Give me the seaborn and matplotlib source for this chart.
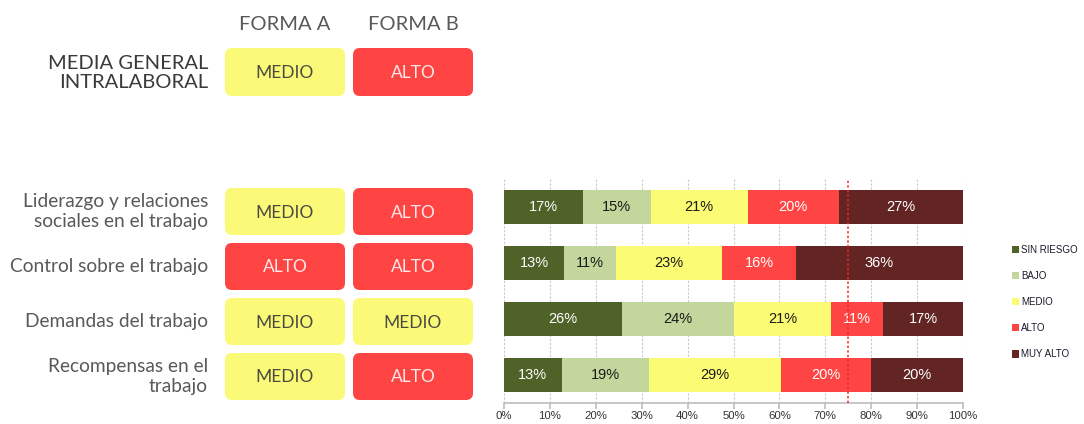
import numpy as np
import pandas as pd
import matplotlib
matplotlib.use("Agg")
import matplotlib.pyplot as plt
import seaborn as sns
from matplotlib.patches import FancyBboxPatch, Patch

# Datos
dimensiones = [
    "Liderazgo y relaciones\nsociales en el trabajo",
    "Control sobre el trabajo",
    "Demandas del trabajo",
    "Recompensas en el\ntrabajo",
]
niveles = ["SIN RIESGO", "BAJO", "MEDIO", "ALTO", "MUY ALTO"]
sin_riesgo = [17.2, 13.1, 25.7, 12.6]
bajo = [14.8, 11.3, 24.4, 19.0]
medio = [21.1, 23.1, 21.1, 28.7]
alto = [19.8, 16.1, 11.4, 19.6]
muy_alto = [27.1, 36.4, 17.4, 20.1]
etiquetas = [
    [17, 15, 21, 20, 27],
    [13, 11, 23, 16, 36],
    [26, 24, 21, 11, 17],
    [13, 19, 29, 20, 20],
]
forma_a = ["MEDIO", "ALTO", "MEDIO", "MEDIO"]
forma_b = ["ALTO", "ALTO", "MEDIO", "ALTO"]
general_a = "MEDIO"
general_b = "ALTO"
linea_referencia = 75

colores = {
    "SIN RIESGO": "#4F6228",
    "BAJO": "#C3D69B",
    "MEDIO": "#FBFB74",
    "ALTO": "#FF4444",
    "MUY ALTO": "#632523",
}
color_texto = {"SIN RIESGO": "white", "BAJO": "#1a1a1a", "MEDIO": "#1a1a1a",
               "ALTO": "white", "MUY ALTO": "white"}
caja_color = {"MEDIO": "#FAFA78", "ALTO": "#FF4444"}
caja_texto = {"MEDIO": "#4a4a40", "ALTO": "#FFE8E8"}

sns.set_theme(style="white")
plt.rcParams["font.family"] = ["Liberation Sans", "DejaVu Sans"]

fig = plt.figure(figsize=(10.84, 4.24), dpi=100)

# --- tabla de la izquierda (coordenadas en pixeles) ---
tab = fig.add_axes([0, 0, 1, 1])
tab.set_xlim(0, 1084)
tab.set_ylim(424, 0)
tab.axis("off")

fuente_tabla = "Lato"
gris = "#595959"


def caja(x0, y0, w, h, nivel):
    p = FancyBboxPatch((x0 + 5, y0 + 5), w - 10, h - 10,
                       boxstyle="round,pad=5,rounding_size=7",
                       facecolor=caja_color[nivel], edgecolor="none")
    tab.add_patch(p)
    tab.text(x0 + w / 2, y0 + h / 2 + 1, nivel, ha="center", va="center",
             fontsize=12.5, color=caja_texto[nivel], family=fuente_tabla)


tab.text(285, 25, "FORMA A", ha="center", va="center", fontsize=14.5,
         color=gris, family=fuente_tabla)
tab.text(413, 25, "FORMA B", ha="center", va="center", fontsize=14.5,
         color=gris, family=fuente_tabla)
tab.text(208, 73, "MEDIA GENERAL\nINTRALABORAL", ha="right", va="center",
         fontsize=14.5, color="#3a3a3a", family=fuente_tabla,
         linespacing=1.1)
caja(225, 48, 120, 48, general_a)
caja(353, 48, 120, 48, general_b)

for i, dim in enumerate(dimensiones):
    yc = 211.5 + 55 * i
    tab.text(208, yc, dim, ha="right", va="center", fontsize=13.8,
             color=gris, family=fuente_tabla, linespacing=1.2)
    caja(225, yc - 23.5, 120, 47, forma_a[i])
    caja(353, yc - 23.5, 120, 47, forma_b[i])

# --- barras apiladas ---
ax = fig.add_axes([504 / 1084, 21 / 424, 459 / 1084, 224 / 424])

df = pd.DataFrame({
    "dimension": dimensiones,
    "SIN RIESGO": sin_riesgo,
    "BAJO": bajo,
    "MEDIO": medio,
    "ALTO": alto,
    "MUY ALTO": muy_alto,
})
acum = df[niveles].cumsum(axis=1)
acum["dimension"] = dimensiones

for nivel in reversed(niveles):
    sns.barplot(data=acum, x=nivel, y="dimension", color=colores[nivel],
                orient="h", width=0.62, saturation=1, linewidth=0, ax=ax,
                zorder=3)

for i in range(len(dimensiones)):
    for j, nivel in enumerate(niveles):
        fin = acum.loc[i, nivel]
        valor = df.loc[i, nivel]
        ax.text(fin - valor / 2, i, f"{etiquetas[i][j]}%", ha="center",
                va="center", fontsize=10.5, color=color_texto[nivel], zorder=5)

ax.axvline(linea_referencia, color="#FF2020", linestyle=(0, (1.5, 1.5)),
           linewidth=1.1, zorder=6)

ax.set_xlim(0, 100)
ax.set_xticks(np.arange(0, 101, 10))
ax.set_xticklabels([f"{v}%" for v in range(0, 101, 10)], fontsize=8.2)
ax.set_yticks([])
ax.set_xlabel("")
ax.set_ylabel("")
ax.grid(axis="x", color="#C8C8C8", linestyle=(0, (2, 1.5)), linewidth=0.8,
        zorder=0)
for s in ["top", "right", "left"]:
    ax.spines[s].set_visible(False)
ax.spines["bottom"].set_color("#BFBFBF")
ax.tick_params(axis="x", length=4, color="#BFBFBF", pad=1.5, bottom=True,
               labelcolor="#333333")

handles = [Patch(facecolor=colores[n], edgecolor="none", label=n)
           for n in niveles]
fig.legend(handles=handles, loc="upper left",
           bbox_to_anchor=(1012 / 1084, 1 - 245 / 424), frameon=False,
           fontsize=7, handlelength=0.7, handleheight=0.8,
           handletextpad=0.25, labelspacing=1.65, borderaxespad=0,
           borderpad=0, labelcolor="#1a1a2a")

fig.savefig("out.png", dpi=100)
